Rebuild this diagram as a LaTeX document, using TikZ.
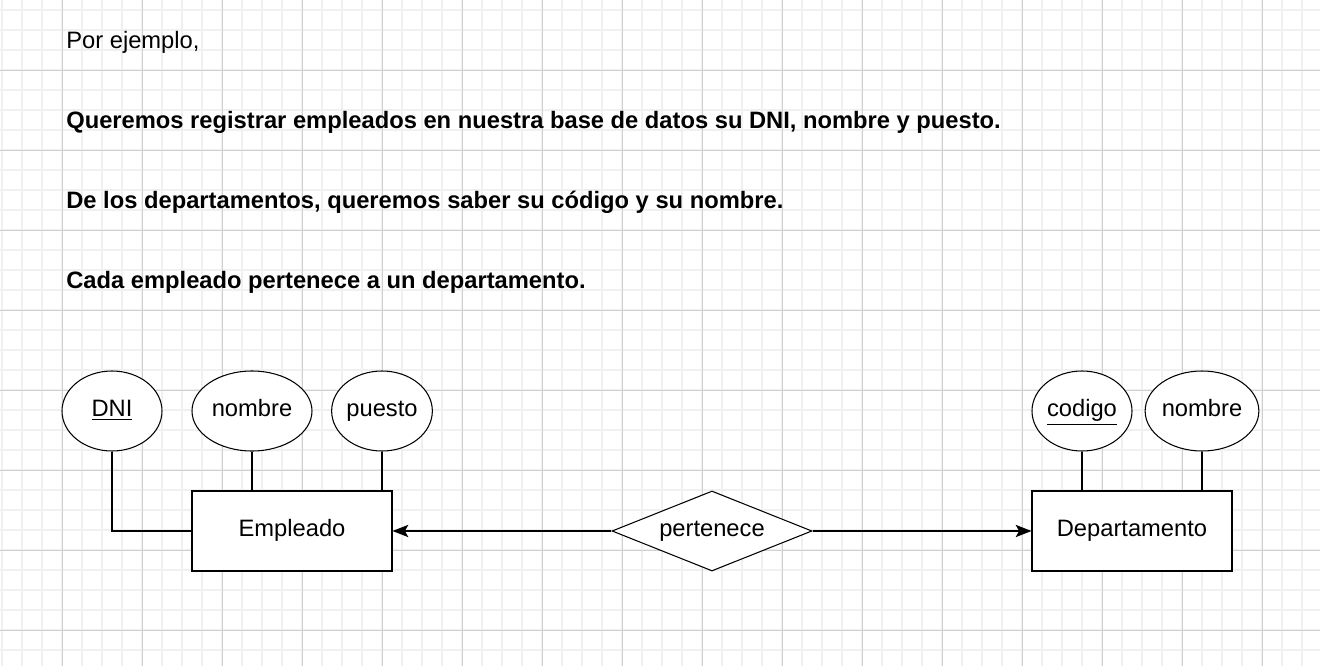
\documentclass[tikz,border=0pt]{standalone}
\usepackage{fontspec}
\setmainfont{Liberation Sans}
\usetikzlibrary{arrows.meta,positioning,shapes.geometric}
\tikzset{
     arr/.style = {-{Stealth[length=9pt,width=7pt,inset=2pt]}, semithick},
    base/.style = {draw, semithick, font=\fontsize{13.5}{16}\selectfont, align=center,
                   text height=1.6ex, text depth=0.4ex},
  entity/.style = {base, rectangle, minimum width=200*0.02cm, minimum height=80*0.02cm},
    attr/.style = {base, ellipse, minimum width=100*0.02cm, minimum height=80*0.02cm, inner sep=0pt},
     rel/.style = {base, diamond, aspect=2.5, minimum width=200*0.02cm, minimum height=80*0.02cm, inner sep=0pt},
     txt/.style = {anchor=west, font=\fontsize{13.5}{16}\selectfont, inner sep=0pt},
}
\begin{document}
\begin{tikzpicture}[x=0.02cm,y=-0.02cm]
  \useasboundingbox (0,0) rectangle (1320,666);
  % grid
  \foreach \x in {2,22,...,1320} \draw[black!6,line width=0.6pt] (\x,0) -- (\x,666);
  \foreach \y in {10,30,...,666} \draw[black!6,line width=0.6pt] (0,\y) -- (1320,\y);
  \foreach \x in {62,142,...,1320} \draw[black!18,line width=0.4pt] (\x,0) -- (\x,666);
  \foreach \y in {70,150,...,666} \draw[black!18,line width=0.4pt] (0,\y) -- (1320,\y);

  % texts
  \node[txt] (t0) at (66,42) {Por ejemplo,};
  \node[txt] (t1) at (66,122) {\bfseries Queremos registrar empleados en nuestra base de datos su DNI, nombre y puesto.};
  \node[txt] (t2) at (66,202) {\bfseries De los departamentos, queremos saber su código y su nombre.};
  \node[txt] (t3) at (66,282) {\bfseries Cada empleado pertenece a un departamento.};

  % entities and relation
  \node[entity,fill=white] (emp) at (292,531) {Empleado};
  \node[entity,fill=white] (dep) at (1132,531) {Departamento};
  \node[rel,fill=white] (pert) at (712,531) {pertenece};

  % attributes
  \node[attr,fill=white] (dni) at (112,411) {\underline{DNI}};
  \node[attr,fill=white,minimum width=120*0.02cm] (nomE) at (252,411) {nombre};
  \node[attr,fill=white] (pue) at (382,411) {puesto};
  \node[attr,fill=white] (cod) at (1082,411) {\underline{codigo}};
  \node[attr,fill=white] (nomD) at (1202,411) {nombre};

  \draw[semithick] (dni.south) |- (emp.west);
  \draw[semithick] (nomE) -- (nomE |- emp.north);
  \draw[semithick] (pue) -- (pue |- emp.north);
  \draw[semithick] (cod) -- (cod |- dep.north);
  \draw[semithick] (nomD) -- (nomD |- dep.north);

  \draw[arr] (pert.west) -- (emp.east);
  \draw[arr] (pert.east) -- (dep.west);
\end{tikzpicture}
\end{document}
